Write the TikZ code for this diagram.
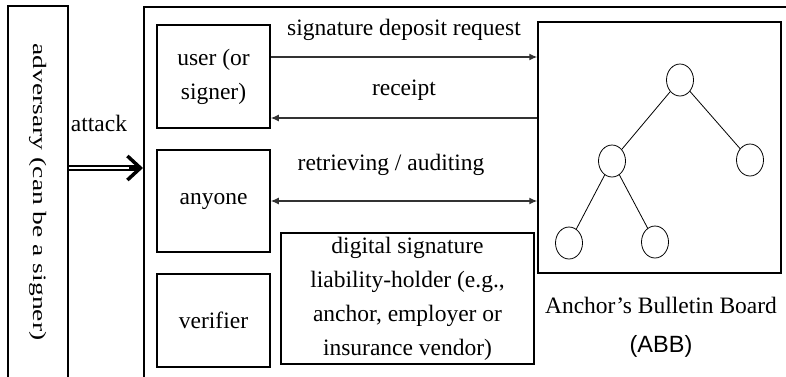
\documentclass[tikz,border=0pt]{standalone}
\usepackage{fontspec}
\setmainfont{Liberation Serif}
\setsansfont{Liberation Sans}
\usepackage{tikz}
\usetikzlibrary{arrows.meta,shapes.geometric}

\begin{document}
\begin{tikzpicture}[x=1pt,y=-1pt,
  box/.style={draw, line width=1.5pt, inner sep=0pt, align=center,
    font=\fontsize{23.5}{34}\selectfont},
  leaf/.style={draw, ellipse, line width=0.8pt, minimum width=27pt, minimum height=32pt, inner sep=0pt},
  msg/.style={line width=1.3pt, black!80, -{Latex[length=8pt,width=7pt]}},
  lbl/.style={font=\fontsize{23.5}{34}\selectfont}]
\useasboundingbox (0,0) rectangle (786,376);
\clip (0,0) rectangle (786,376);

% left side: adversary and the whole system
\node[box, rotate=-90, minimum width=372pt, minimum height=60pt, font=\fontsize{19}{22}\selectfont]
  (adv) at (38,192) {\scalebox{1.45}[1]{adversary (can be a signer)}};
\node[box, anchor=north west, minimum width=680pt, minimum height=400pt] (sys) at (143,6) {};

% parties
\node[box, minimum width=113pt, minimum height=103pt] (user) at (213.5,76.5) {user (or\\signer)};
\node[box, minimum width=113pt, minimum height=102pt] (anyone) at (213.5,201) {anyone};
\node[box, minimum width=113pt, minimum height=93pt] (verifier) at (213.5,320.5) {verifier};
\node[box, minimum width=253pt, minimum height=131pt] (holder) at (407.5,298.5)
  {digital signature\\liability-holder (e.g.,\\anchor, employer or\\insurance vendor)};
\node[box, minimum width=243pt, minimum height=251pt] (abb) at (659.5,147.5) {};

% the tree on the board
\node[leaf] (root) at (680,80) {};
\node[leaf] (mid) at (612,161) {};
\node[leaf] (rgt) at (750,160) {};
\node[leaf] (lfa) at (569,243) {};
\node[leaf] (lfb) at (655,242) {};
\draw[line width=0.8pt] (root) -- (mid);
\draw[line width=0.8pt] (root) -- (rgt);
\draw[line width=0.8pt] (mid) -- (lfa);
\draw[line width=0.8pt] (mid) -- (lfb);

% messages
\draw[msg] (user.east |- 0,57) -- (abb.west |- 0,57);
\draw[msg] (abb.west |- 0,118) -- (user.east |- 0,118);
\draw[msg, {Latex[length=8pt,width=7pt]}-{Latex[length=8pt,width=7pt]}] (anyone.east) -- (anyone.east -| abb.west);
\node[lbl] (sdr) at (404,30) {signature deposit request};
\node[lbl] (rcp) at (404,90) {receipt};
\node[lbl] (ret) at (391,165) {retrieving / auditing};

% attack
\draw[double, double distance=2.5pt, line width=1.3pt] (adv.north |- 0,168) -- ([xshift=-4pt]sys.west |- 0,168);
\draw[line width=3.5pt, -{Straight Barb[length=13pt,width=24pt]}] ([xshift=-14pt]sys.west |- 0,168) -- (sys.west |- 0,168);
\node[lbl] (atk) at (99,123) {attack};

\node[lbl, align=center, font=\fontsize{23.5}{39}\selectfont] (abbname) at (661,327)
  {Anchor’s Bulletin Board\\{\sffamily (ABB)}};
\end{tikzpicture}
\end{document}
